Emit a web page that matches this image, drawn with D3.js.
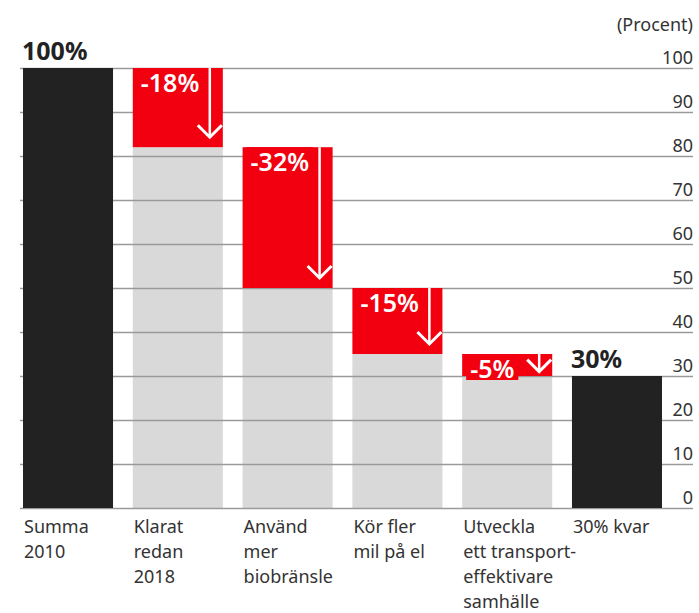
<!DOCTYPE html>
<html>
<head>
<meta charset="utf-8">
<script src="https://cdn.jsdelivr.net/npm/d3@7"></script>
<style>
  body { margin: 0; background: #fff; }
  text { font-family: "Noto Sans", sans-serif; }
</style>
</head>
<body>
<div id="vis"></div>
<script>
const ctx = {
    w: 699,
    h: 613,
    top: 68,
    bottom: 508,
    left: 20,
    right: 693,
    barStart: 23,
    barEnd: 662
};

// data
const categories = ["Summa 2010", "Klarat redan 2018", "Använd mer biobränsle",
                    "Kör fler mil på el", "Utveckla ett transporteffektivare samhälle", "30% kvar"];
const labelLines = [["Summa", "2010"], ["Klarat", "redan", "2018"], ["Använd", "mer", "biobränsle"],
                    ["Kör fler", "mil på el"], ["Utveckla", "ett transport-", "effektivare", "samhälle"], ["30% kvar"]];
const totals = [100, null, null, null, null, 30];
const changes = [null, -18, -32, -15, -5, null];
const yTicks = [0, 10, 20, 30, 40, 50, 60, 70, 80, 90, 100];

const colors = { total: "#222222", rest: "#d9d9d9", change: "#f2000f", grid: "#9a9a9a", text: "#333333" };

function buildRows() {
    let level = 0;
    return categories.map((c, i) => {
        if (totals[i] !== null) {
            level = totals[i];
            return { cat: c, lines: labelLines[i], total: totals[i] };
        }
        let from = level;
        level = level + changes[i];
        return { cat: c, lines: labelLines[i], from: from, to: level, change: changes[i] };
    });
}

function createViz() {
    const rows = buildRows();
    const svg = d3.select("#vis").append("svg")
        .attr("width", ctx.w)
        .attr("height", ctx.h);

    const x = d3.scaleBand()
        .domain(categories)
        .range([ctx.barStart, ctx.barEnd])
        .paddingInner(0.18)
        .paddingOuter(0);

    const y = d3.scaleLinear()
        .domain([0, 100])
        .range([ctx.bottom, ctx.top]);

    // gray remaining part of the change bars
    svg.append("g").selectAll("rect")
        .data(rows.filter(d => d.change !== undefined))
        .enter().append("rect")
        .attr("x", d => x(d.cat))
        .attr("width", x.bandwidth())
        .attr("y", d => y(d.to))
        .attr("height", d => y(0) - y(d.to))
        .style("fill", colors.rest);

    // grid + axis on the right
    const axis = svg.append("g")
        .attr("transform", `translate(${ctx.right},0)`)
        .call(d3.axisLeft(y).tickValues(yTicks).tickSize(ctx.right - ctx.left).tickSizeOuter(0));
    axis.select(".domain").remove();
    axis.selectAll("line")
        .style("stroke", colors.grid)
        .style("stroke-width", 1.5);
    axis.selectAll("text")
        .attr("x", 0)
        .attr("dy", -5)
        .style("text-anchor", "end")
        .style("font-family", "Noto Sans")
        .style("font-size", "18px")
        .style("fill", colors.text);

    svg.append("text")
        .attr("x", ctx.right)
        .attr("y", 31)
        .style("text-anchor", "end")
        .style("font-size", "18px")
        .style("fill", colors.text)
        .text("(Procent)");

    // totals (black)
    const tot = svg.append("g").selectAll("g")
        .data(rows.filter(d => d.total !== undefined))
        .enter().append("g");
    tot.append("rect")
        .attr("x", d => x(d.cat))
        .attr("width", x.bandwidth())
        .attr("y", d => y(d.total))
        .attr("height", d => y(0) - y(d.total))
        .style("fill", colors.total);
    tot.append("text")
        .attr("x", d => x(d.cat) - 1)
        .attr("y", d => y(d.total) - 8)
        .style("font-size", "25px")
        .style("font-weight", "bold")
        .style("fill", colors.total)
        .text(d => d.total + "%");

    // red changes
    const ch = svg.append("g").selectAll("g")
        .data(rows.filter(d => d.change !== undefined))
        .enter().append("g");
    ch.append("rect")
        .attr("x", d => x(d.cat))
        .attr("width", x.bandwidth())
        .attr("y", d => y(d.from))
        .attr("height", d => y(d.to) - y(d.from))
        .style("fill", colors.change);

    // arrows
    const ax = d => x(d.cat) + 77;
    const tip = d => y(d.to) - Math.min(10, (y(d.to) - y(d.from)) * 0.2);
    ch.append("line")
        .attr("x1", ax).attr("x2", ax)
        .attr("y1", d => y(d.from))
        .attr("y2", tip)
        .style("stroke", "#fff")
        .style("stroke-width", 2.5);
    ch.append("path")
        .attr("d", d => `M${ax(d) - 12},${tip(d) - 12} L${ax(d)},${tip(d)} L${ax(d) + 12},${tip(d) - 12}`)
        .style("fill", "none")
        .style("stroke", "#fff")
        .style("stroke-width", 3);

    // change labels with red backing
    const lbl = ch.append("text")
        .attr("x", d => x(d.cat) + 8)
        .attr("y", d => y(d.from) + 24)
        .style("font-size", "25px")
        .style("font-weight", "600")
        .style("fill", "#fff")
        .text(d => d.change + "%");
    lbl.each(function(d) {
        const b = this.getBBox();
        const base = y(d.from) + 24;
        d3.select(this.parentNode).insert("rect", "text")
            .attr("x", b.x - 4)
            .attr("y", y(d.from))
            .attr("width", b.width + 8)
            .attr("height", base + 2 - y(d.from))
            .style("fill", colors.change);
    });

    // category labels
    const cl = svg.append("g").selectAll("text")
        .data(rows)
        .enter().append("text")
        .attr("x", d => x(d.cat) + 1)
        .attr("y", 533)
        .style("font-size", "18px")
        .style("fill", colors.text);
    cl.selectAll("tspan")
        .data(d => d.lines.map(l => ({ l: l, x: x(d.cat) + 1 })))
        .enter().append("tspan")
        .attr("x", t => t.x)
        .attr("dy", (t, i) => i === 0 ? 0 : 25)
        .text(t => t.l);
}

createViz();
</script>
</body>
</html>
